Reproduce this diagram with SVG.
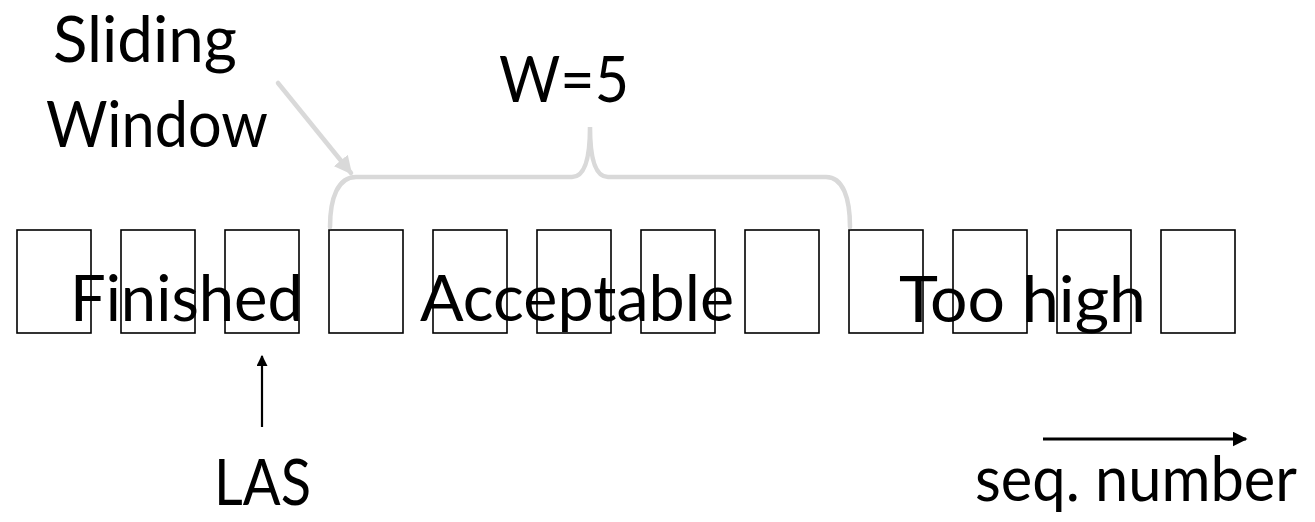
<svg xmlns="http://www.w3.org/2000/svg" width="1315" height="522" viewBox="0 0 1315 522">
<defs>
<style>
.t{font-family:Lato,"Liberation Sans",sans-serif;font-size:64px;fill:#000}
.box{fill:none;stroke:#000;stroke-width:1.6}
.gray{fill:none;stroke:#d9d9d9;stroke-width:4.5;stroke-linecap:round}
</style>
<marker id="ag" viewBox="0 0 10 10" refX="9" refY="5" markerWidth="4" markerHeight="4" orient="auto" markerUnits="strokeWidth"><path d="M0,0 L10,5 L0,10 Z" fill="#d9d9d9"/></marker>
<marker id="ab" viewBox="0 0 10 10" refX="9" refY="5" markerWidth="5" markerHeight="5" orient="auto" markerUnits="strokeWidth"><path d="M0,0 L10,5 L0,10 Z" fill="#000"/></marker>
</defs>
<g id="boxes">
<rect id="b1" class="box" x="17" y="230" width="74" height="103"/>
<rect id="b2" class="box" x="121" y="230" width="74" height="103"/>
<rect id="b3" class="box" x="225" y="230" width="74" height="103"/>
<rect id="b4" class="box" x="329" y="230" width="74" height="103"/>
<rect id="b5" class="box" x="433" y="230" width="74" height="103"/>
<rect id="b6" class="box" x="537" y="230" width="74" height="103"/>
<rect id="b7" class="box" x="641" y="230" width="74" height="103"/>
<rect id="b8" class="box" x="745" y="230" width="74" height="103"/>
<rect id="b9" class="box" x="849" y="230" width="74" height="103"/>
<rect id="b10" class="box" x="953" y="230" width="74" height="103"/>
<rect id="b11" class="box" x="1057" y="230" width="74" height="103"/>
<rect id="b12" class="box" x="1161" y="230" width="74" height="103"/>
</g>
<g id="labels">
<text class="t" x="53" y="62" textLength="184" lengthAdjust="spacingAndGlyphs">Sliding</text>
<text class="t" x="46" y="147" textLength="222" lengthAdjust="spacingAndGlyphs">Window</text>
<text class="t" x="499" y="102" textLength="130" lengthAdjust="spacingAndGlyphs">W=5</text>
<text class="t" x="70" y="321" textLength="233" lengthAdjust="spacingAndGlyphs">Finished</text>
<text class="t" x="420" y="321" textLength="314" lengthAdjust="spacingAndGlyphs">Acceptable</text>
<text class="t" x="899" y="322" textLength="247" lengthAdjust="spacingAndGlyphs">Too high</text>
<text class="t" x="214" y="505" textLength="97" lengthAdjust="spacingAndGlyphs">LAS</text>
<text class="t" x="975" y="501" textLength="322" lengthAdjust="spacingAndGlyphs" style="font-size:62px">seq. number</text>
</g>
<g id="connectors">
<path id="brace" class="gray" d="M330,227 C330,198 338,177 356,177 L572,177 C584,177 590,160 590,127 C590,160 596,177 608,177 L826,177 C843,177 850,198 850,227"/>
<line id="slidingArrow" class="gray" x1="278" y1="83" x2="351" y2="173" marker-end="url(#ag)"/>
<line id="lasArrow" x1="262" y1="427" x2="262" y2="356" stroke="#000" stroke-width="2.2" marker-end="url(#ab)"/>
<line id="seqArrow" x1="1043" y1="439" x2="1246" y2="439" stroke="#000" stroke-width="3" marker-end="url(#ab)"/>
</g>
</svg>
